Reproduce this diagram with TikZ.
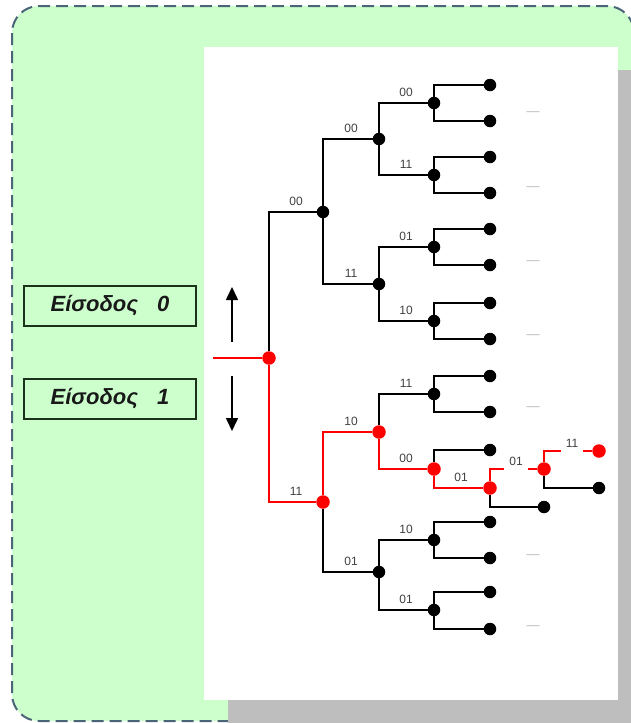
\documentclass[tikz,border=0pt]{standalone}
\usepackage{fontspec}
\setmainfont{Liberation Sans}
\usetikzlibrary{arrows.meta}
\definecolor{bggreen}{RGB}{204,255,204}
\definecolor{dashcol}{RGB}{75,100,120}
\definecolor{shadowgray}{RGB}{190,190,190}
\definecolor{lblcol}{RGB}{65,65,65}
\definecolor{boxcol}{RGB}{25,50,25}
\definecolor{trailgray}{RGB}{185,185,185}
\begin{document}
\begin{tikzpicture}[x=1pt,y=-1pt,
  dot/.style={circle,fill=black,inner sep=0pt,minimum size=12.5pt},
  rdot/.style={circle,fill=red,inner sep=0pt,minimum size=13.5pt},
  wire/.style={line width=1.8pt,black},
  rwire/.style={line width=1.8pt,red},
  lbl/.style={font=\fontsize{12}{12}\selectfont,text=lblcol,inner sep=0.5pt,anchor=south},
  gaplbl/.style={font=\fontsize{12}{12}\selectfont,text=lblcol,fill=white,minimum height=23pt,inner xsep=5pt,inner ysep=0pt},
  inbox/.style={draw=boxcol,line width=1.5pt,minimum width=172pt,minimum height=40pt,inner sep=0pt,font=\fontsize{22}{24}\selectfont\bfseries\itshape,text=black!90},
  arr/.style={line width=1.6pt,black,-{Triangle[width=12pt,length=13pt]}},
  trail/.style={font=\fontsize{13}{13}\selectfont,text=trailgray,inner sep=0pt}
]
\useasboundingbox (0,0) rectangle (631,723);
\fill[white] (0,0) rectangle (631,723);
% outer dashed frame
\draw[dashcol,fill=bggreen,line width=2pt,dash pattern=on 12pt off 6pt,rounded corners=27pt] (12,6) rectangle (634,721);
% shadow and white panel
\fill[shadowgray] (618,70) rectangle (631,723);
\fill[shadowgray] (228,700) rectangle (631,723);
\fill[white] (204,47) rectangle (618,700);

% input boxes and arrows
\node[inbox] (in0) at (110,306) {Είσοδος\hspace{19pt}0};
\node[inbox] (in1) at (110,399) {Είσοδος\hspace{19pt}1};
\coordinate (ua) at (232,342);
\coordinate (ub) at (232,287);
\coordinate (da) at (232,376);
\coordinate (db) at (232,431);
\draw[arr] (ua) -- (ub);
\draw[arr] (da) -- (db);

% tree nodes
\node[rdot] (r) at (269,358) {};
\node[dot]  (a0) at (323,212) {};
\node[rdot] (a1) at (323,502) {};
\node[dot]  (b0) at (379,139) {};
\node[dot]  (b1) at (379,284) {};
\node[rdot] (b2) at (379,432) {};
\node[dot]  (b3) at (379,572) {};
\node[dot]  (c0) at (434,103) {};
\node[dot]  (c1) at (434,175) {};
\node[dot]  (c2) at (434,247) {};
\node[dot]  (c3) at (434,321) {};
\node[dot]  (c4) at (434,394) {};
\node[rdot] (c5) at (434,469) {};
\node[dot]  (c6) at (434,540) {};
\node[dot]  (c7) at (434,610) {};
\node[dot] (d0) at (490,85) {};
\node[dot] (d1) at (490,121) {};
\node[dot] (d2) at (490,157) {};
\node[dot] (d3) at (490,193) {};
\node[dot] (d4) at (490,229) {};
\node[dot] (d5) at (490,265) {};
\node[dot] (d6) at (490,303) {};
\node[dot] (d7) at (490,339) {};
\node[dot] (d8) at (490,376) {};
\node[dot] (d9) at (490,412) {};
\node[dot] (d10) at (490,450) {};
\node[rdot] (d11) at (490,488) {};
\node[dot] (d12) at (490,522) {};
\node[dot] (d13) at (490,558) {};
\node[dot] (d14) at (490,592) {};
\node[dot] (d15) at (490,629) {};
\node[rdot] (e0) at (544,469) {};
\node[dot]  (e1) at (544,507) {};
\node[rdot] (f0) at (599,451) {};
\node[dot]  (f1) at (599,488) {};

% input line
\coordinate (in) at (213,358);
\draw[rwire] (in) -- (r);

% connectors
\draw[wire]  (r) |- (a0);
\draw[rwire] (r) |- (a1);
\draw[wire]  (a0) |- (b0);
\draw[wire]  (a0) |- (b1);
\draw[rwire] (a1) |- (b2);
\draw[wire]  (a1) |- (b3);
\draw[wire]  (b0) |- (c0);
\draw[wire]  (b0) |- (c1);
\draw[wire]  (b1) |- (c2);
\draw[wire]  (b1) |- (c3);
\draw[wire]  (b2) |- (c4);
\draw[rwire] (b2) |- (c5);
\draw[wire]  (b3) |- (c6);
\draw[wire]  (b3) |- (c7);
\draw[wire] (c0) |- (d0);
\draw[wire] (c0) |- (d1);
\draw[wire] (c1) |- (d2);
\draw[wire] (c1) |- (d3);
\draw[wire] (c2) |- (d4);
\draw[wire] (c2) |- (d5);
\draw[wire] (c3) |- (d6);
\draw[wire] (c3) |- (d7);
\draw[wire] (c4) |- (d8);
\draw[wire] (c4) |- (d9);
\draw[wire] (c5) |- (d10);
\draw[rwire] (c5) |- (d11);
\draw[wire] (c6) |- (d12);
\draw[wire] (c6) |- (d13);
\draw[wire] (c7) |- (d14);
\draw[wire] (c7) |- (d15);
\draw[rwire] (d11) |- (e0);
\draw[wire]  (d11) |- (e1);
\draw[rwire] (e0) |- (f0);
\draw[wire]  (e0) |- (f1);

% branch labels
\node[lbl] (la0) at (296,206) {00};
\node[lbl] (la1) at (296,496) {11};
\node[lbl] (lb0) at (351,133) {00};
\node[lbl] (lb1) at (351,278) {11};
\node[lbl] (lb2) at (351,426) {10};
\node[lbl] (lb3) at (351,566) {01};
\node[lbl] (lc0) at (406,97) {00};
\node[lbl] (lc1) at (406,169) {11};
\node[lbl] (lc2) at (406,241) {01};
\node[lbl] (lc3) at (406,315) {10};
\node[lbl] (lc4) at (406,388) {11};
\node[lbl] (lc5) at (406,463) {00};
\node[lbl] (lc6) at (406,534) {10};
\node[lbl] (lc7) at (406,604) {01};
\node[lbl] (ld11) at (461,482) {01};
\node[gaplbl] (le0) at (516,461) {01};
\node[gaplbl] (lf0) at (572,443) {11};

% trailing marks
\node[trail] (t0) at (533,114) {—};
\node[trail] (t1) at (533,189) {—};
\node[trail] (t2) at (533,263) {—};
\node[trail] (t3) at (533,337) {—};
\node[trail] (t4) at (533,409) {—};
\node[trail] (t5) at (533,557) {—};
\node[trail] (t6) at (533,628) {—};
\end{tikzpicture}
\end{document}
